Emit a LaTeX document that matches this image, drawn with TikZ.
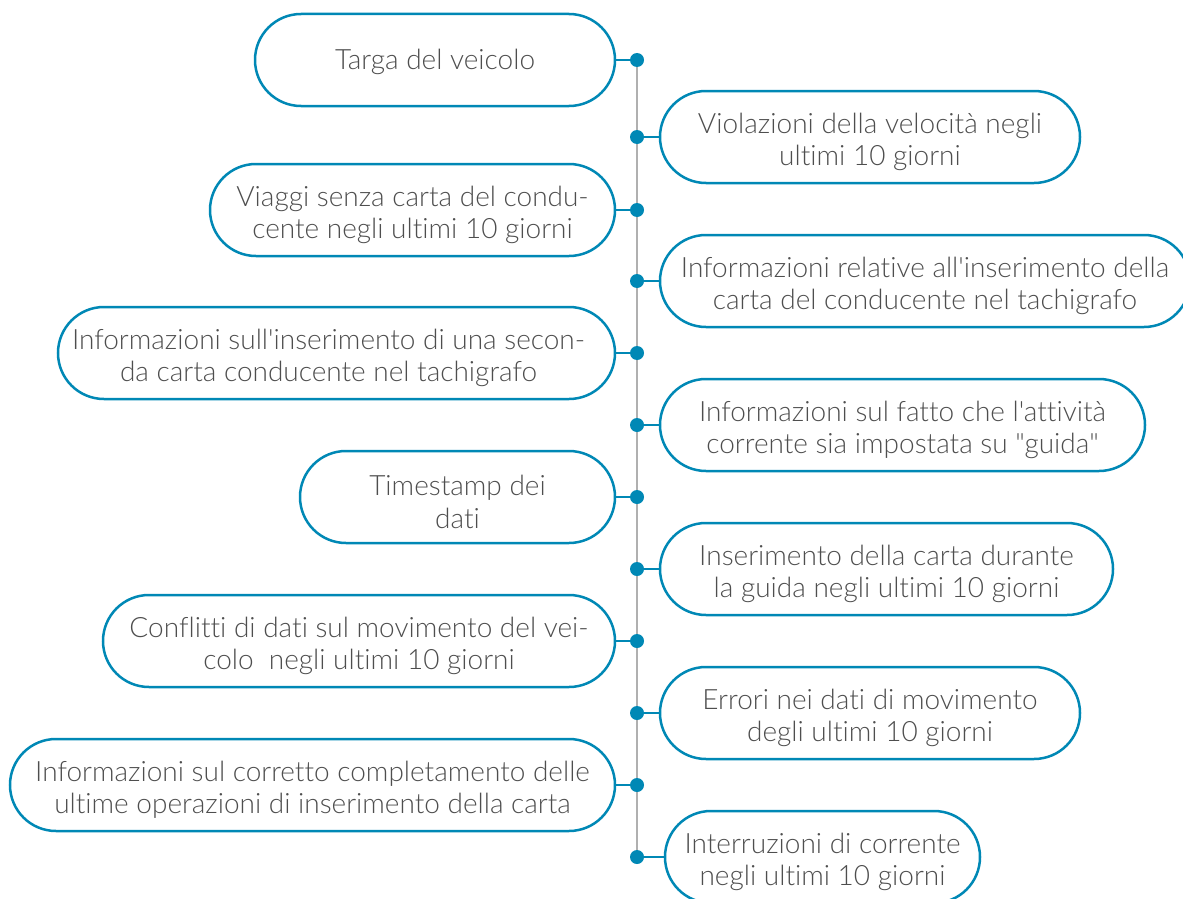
\documentclass[tikz,border=0pt]{standalone}
\usepackage{fontspec}
\setmainfont{Lato}[UprightFont=* Light, Ligatures={TeXOff,NoCommon}]
\definecolor{tblue}{HTML}{0088B5}
\definecolor{tgray}{HTML}{4E4E4E}
\definecolor{lgray}{HTML}{B0B0B0}
\begin{document}
\begin{tikzpicture}[x=1pt,y=-1pt,
  pill/.style={draw=tblue, line width=2.5pt, rounded corners=46pt, minimum height=92pt, inner sep=0pt},
  txt/.style={align=center, text=tgray, inner sep=0pt, font=\fontsize{28}{32.5}\selectfont, yshift=-5pt},
  txtone/.style={txt, yshift=3pt},
  dot/.style={circle, fill=tblue, minimum size=14pt, inner sep=0pt},
  link/.style={draw=tblue, line width=2.5pt},
  spine/.style={draw=lgray, line width=1.5pt}]
\useasboundingbox (0,0) rectangle (1183,899);
\clip (0,0) rectangle (1183,899);
% dot positions
\foreach \i/\y in {1/60,2/137,3/210,4/281,5/353,6/425,7/497,8/569,9/641,10/713,11/785,12/857}
  \coordinate (c\i) at (637,\y);
\draw[spine] (c1) -- (c12);
% left boxes
\node[pill, minimum width=360pt] (n1) at (435,60) {};
\node[pill, minimum width=405pt] (n3) at (412.5,210) {};
\node[pill, minimum width=557pt] (n5) at (336.5,353) {};
\node[pill, minimum width=315pt] (n7) at (457.5,497) {};
\node[pill, minimum width=512pt] (n9) at (359,641) {};
\node[pill, minimum width=605pt] (n11) at (312.5,785) {};
% right boxes
\node[pill, minimum width=420pt] (n2) at (870,137) {};
\node[pill, minimum width=530pt] (n4) at (925,281) {};
\node[pill, minimum width=485pt] (n6) at (902.5,425) {};
\node[pill, minimum width=453pt] (n8) at (886.5,569) {};
\node[pill, minimum width=420pt] (n10) at (870,713) {};
\node[pill, minimum width=315pt] (n12) at (822.5,857) {};
% texts
\node[txtone] (t1) at (n1.center) {Targa del veicolo};
\node[txt] (t3) at (n3.center) {Viaggi senza carta del condu-\\cente negli ultimi 10 giorni};
\node[txt, xshift=-8pt] (t5) at (n5.center) {Informazioni sull'inserimento di una secon-\\da carta conducente nel tachigrafo};
\node[txt] (t7) at (n7.center) {Timestamp dei\\dati};
\node[txt] (t9) at (n9.center) {Conflitti di dati sul movimento del vei-\\colo~ negli ultimi 10 giorni};
\node[txt] (t11) at (n11.center) {Informazioni sul corretto completamento delle\\ultime operazioni di inserimento della carta};
\node[txt] (t2) at (n2.center) {Violazioni della velocità negli\\ultimi 10 giorni};
\node[txt] (t4) at (n4.center) {Informazioni relative all'inserimento della\\carta del conducente nel tachigrafo};
\node[txt] (t6) at (n6.center) {Informazioni sul fatto che l'attività\\corrente sia impostata su "guida"};
\node[txt] (t8) at (n8.center) {Inserimento della carta durante\\la guida negli ultimi 10 giorni};
\node[txt] (t10) at (n10.center) {Errori nei dati di movimento\\degli ultimi 10 giorni};
\node[txt] (t12) at (n12.center) {Interruzioni di corrente\\negli ultimi 10 giorni};
% connectors
\foreach \i in {1,3,5,7,9,11} \draw[link] (n\i.east) -- (c\i);
\foreach \i in {2,4,6,8,10,12} \draw[link] (c\i) -- (n\i.west);
\foreach \i in {1,...,12} \node[dot] (d\i) at (c\i) {};
\end{tikzpicture}
\end{document}
